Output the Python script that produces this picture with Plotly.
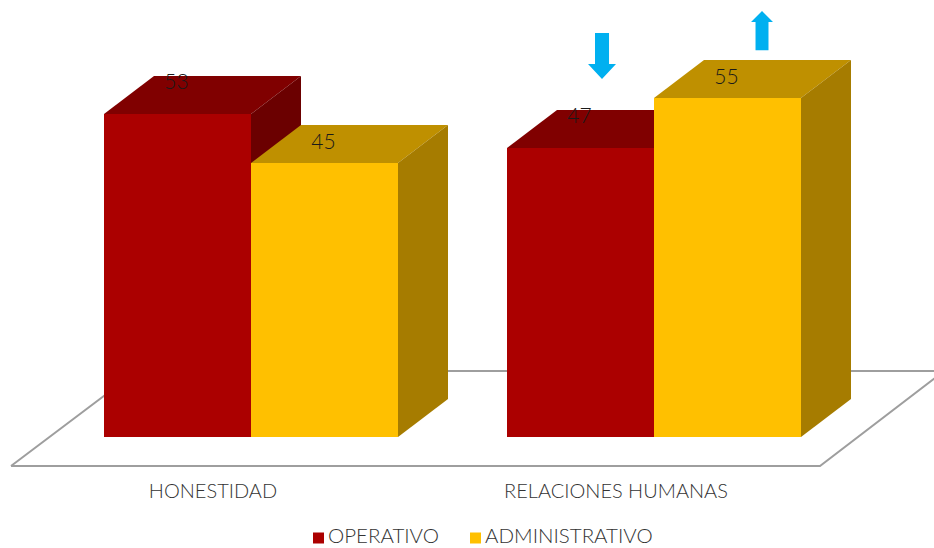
import plotly.graph_objects as go

categories = ["HONESTIDAD", "RELACIONES HUMANAS"]
operativo = [52.78, 47.22]
administrativo = [44.77, 55.39]
series_names = ["OPERATIVO", "ADMINISTRATIVO"]

FONT = "Lato"
TXT = "#333333"
RED, RED_TOP, RED_SIDE = "#AB0000", "#800000", "#6B0000"
YEL, YEL_TOP, YEL_SIDE = "#FFC000", "#BF9000", "#A67C00"
BLUE = "#00B0F0"

# data-space geometry: one x unit = distance between groups, y unit = value unit
PX_X, PX_Y = 403.0, 6.12
W = 147 / PX_X
DX, DY = 50 / PX_X, 38 / PX_Y
xr = [-251 / PX_X, (934 - 251) / PX_X]
yr = [-(548 - 437) / PX_Y, 437 / PX_Y]
groups = [0.0, 1.0]
LABEL_OFF = [30 / PX_Y, 19 / PX_Y]


def poly(xs, ys, color, xa, ya):
    return go.Scatter(x=xs + xs[:1], y=ys + ys[:1], mode="lines", fill="toself",
                      fillcolor=color, line=dict(width=0, color=color),
                      hoverinfo="skip", showlegend=False, xaxis=xa, yaxis=ya)


def box_faces(x0, v, top, side, xa, ya):
    x1 = x0 + W
    return [
        poly([x0, x0 + DX, x1 + DX, x1], [v, v + DY, v + DY, v], top, xa, ya),
        poly([x1, x1 + DX, x1 + DX, x1], [0, DY, v + DY, v], side, xa, ya),
    ]


fig = go.Figure()

# floor
floor_x = [-0.5955, 1.4119, 1.7196, -0.2828]
floor_y = [-4.74, -4.74, 10.78, 10.78]
fig.add_trace(go.Scatter(x=floor_x + floor_x[:1], y=floor_y + floor_y[:1], mode="lines",
                         line=dict(color="#9E9E9E", width=2), fill="toself",
                         fillcolor="#FFFFFF", hoverinfo="skip", showlegend=False,
                         xaxis="x", yaxis="y"))

# first series
for g, v in zip(groups, operativo):
    for t in box_faces(g - W, v, RED_TOP, RED_SIDE, "x2", "y2"):
        fig.add_trace(t)
fig.add_trace(go.Bar(x=[g - W / 2 for g in groups], y=operativo, width=W, name=series_names[0],
                     marker=dict(color=RED, line=dict(width=0)), hoverinfo="skip",
                     showlegend=False, xaxis="x2", yaxis="y2"))

# second series
for g, v in zip(groups, administrativo):
    for t in box_faces(g, v, YEL_TOP, YEL_SIDE, "x3", "y3"):
        fig.add_trace(t)
fig.add_trace(go.Bar(x=[g + W / 2 for g in groups], y=administrativo, width=W, name=series_names[1],
                     marker=dict(color=YEL, line=dict(width=0)), hoverinfo="skip",
                     showlegend=False, xaxis="x3", yaxis="y3"))

# value labels
for i, vals in enumerate([operativo, administrativo]):
    off = (-W / 2 if i == 0 else W / 2) - 1 / PX_X
    fig.add_trace(go.Scatter(x=[g + off for g in groups], y=[v + LABEL_OFF[i] for v in vals],
                             mode="text", text=[str(round(v)) for v in vals],
                             textposition="middle center",
                             textfont=dict(family=FONT, size=21, color="#1A1A1A", weight=300),
                             hoverinfo="skip", showlegend=False, xaxis="x3", yaxis="y3"))


# arrows (centre x in data units, vertical extents in value units)
def arrow(cx, tail, neck, tip, shaft, head):
    return poly([cx - shaft, cx + shaft, cx + shaft, cx + head, cx, cx - head, cx - shaft],
                [tail, tail, neck, neck, tip, neck, neck], BLUE, "x3", "y3")


fig.add_trace(arrow(0.8710, 66.0, 60.95, 58.5, 0.0174, 0.0347))
fig.add_trace(arrow(1.2680, 63.2, 67.8, 69.6, 0.0161, 0.0273))

# legend row, placed in the strip under the category labels
legend_marker_x = [(318.5 - 251) / PX_X, (475.5 - 251) / PX_X]
legend_text_x = [(328 - 251) / PX_X, (485 - 251) / PX_X]
legend_y = -(538 - 437) / PX_Y
for name, mx, tx, color in zip(series_names, legend_marker_x, legend_text_x, [RED, YEL]):
    fig.add_trace(go.Scatter(x=[mx], y=[legend_y - 1 / PX_Y * -1 * 0], mode="markers", name=name,
                             marker=dict(symbol="square", size=11, color=color, line=dict(width=0)),
                             hoverinfo="skip", showlegend=False, xaxis="x3", yaxis="y3"))
    fig.add_trace(go.Scatter(x=[tx], y=[legend_y], mode="text", text=[name],
                             textposition="middle right",
                             textfont=dict(family=FONT, size=20.5, color=TXT, weight=300),
                             hoverinfo="skip", showlegend=False, xaxis="x3", yaxis="y3"))

axis_hidden = dict(visible=False, fixedrange=True)
fig.update_layout(
    width=934, height=548, autosize=False,
    margin=dict(l=0, r=0, t=0, b=0, pad=0),
    paper_bgcolor="white", plot_bgcolor="white",
    barmode="overlay", bargap=0,
    font=dict(family=FONT, color=TXT),
    showlegend=False,
    xaxis=dict(range=xr, tickmode="array", tickvals=[g - 38 / PX_X for g in groups],
               ticktext=categories, tickfont=dict(family=FONT, size=20, color=TXT, weight=300),
               showgrid=False, zeroline=False, showline=False, ticks="", fixedrange=True,
               anchor="free", position=(548 - 470) / 548, automargin=False,
               ticklabelstandoff=7),
    yaxis=dict(range=yr, visible=False, fixedrange=True),
    xaxis2=dict(range=xr, overlaying="x", **axis_hidden),
    yaxis2=dict(range=yr, overlaying="y", **axis_hidden),
    xaxis3=dict(range=xr, overlaying="x", **axis_hidden),
    yaxis3=dict(range=yr, overlaying="y", **axis_hidden),
)

fig.write_html("out.html", config=dict(displayModeBar=False),
               post_script="document.body.style.margin='0';document.documentElement.style.overflow='hidden';")
